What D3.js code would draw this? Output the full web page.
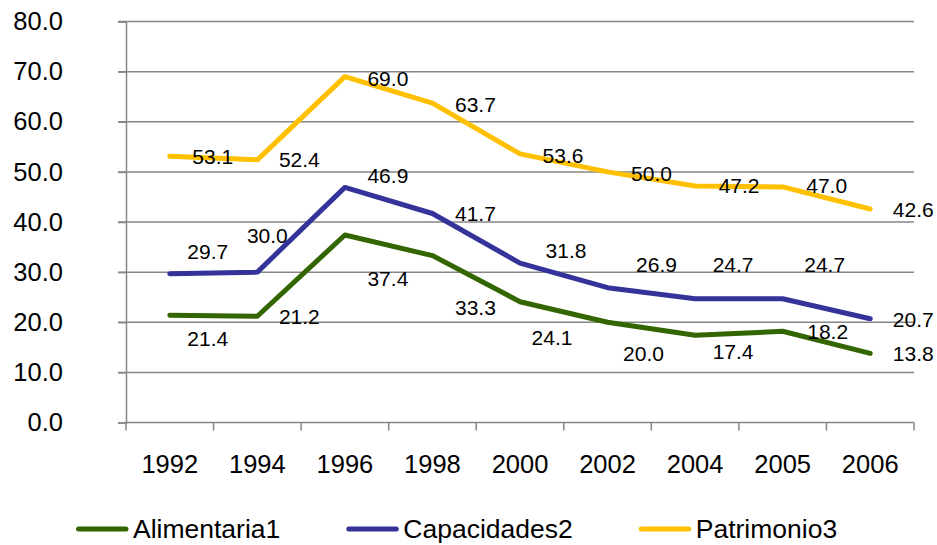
<!DOCTYPE html>
<html>
<head>
<meta charset="utf-8">
<script src="https://cdn.jsdelivr.net/npm/d3@7"></script>
<style>
  body { margin: 0; background: #fff; }
  svg { display: block; font-family: "Liberation Sans", Arial, sans-serif; }
</style>
</head>
<body>
<div id="chart"></div>
<script>
// Years on the category axis
const years = ['1992', '1994', '1996', '1998', '2000', '2002', '2004', '2005', '2006'];

// Poverty series (percent)
const alimentaria = [21.4, 21.2, 37.4, 33.3, 24.1, 20.0, 17.4, 18.2, 13.8];
const capacidades = [29.7, 30.0, 46.9, 41.7, 31.8, 26.9, 24.7, 24.7, 20.7];
const patrimonio = [53.1, 52.4, 69.0, 63.7, 53.6, 50.0, 47.2, 47.0, 42.6];

const yTicks = [0, 10, 20, 30, 40, 50, 60, 70, 80];

// Where each data label sits relative to its point (dx, dy in px)
const alimentariaNudge = [[38, 23], [42, 0], [43, 44], [43, 52], [32, 36], [36, 31], [38, 16], [45, 0], [43, 0]];
const capacidadesNudge = [[38, -22], [10, -36], [43, -12], [43, 0], [46, -12], [49, -23], [38, -34], [42, -34], [43, 1]];
const patrimonioNudge = [[43, 0], [42, 0], [43, 2], [43, 1], [43, 2], [44, 2], [44, 0], [44, -1], [43, 1]];

const series = [
    { name: 'Alimentaria1', values: alimentaria, nudge: alimentariaNudge, color: '#336600' },
    { name: 'Capacidades2', values: capacidades, nudge: capacidadesNudge, color: '#333399' },
    { name: 'Patrimonio3', values: patrimonio, nudge: patrimonioNudge, color: '#FFC000' }
];

const width = 937, height = 545;
const plot = { left: 126, right: 914, top: 21.5, bottom: 422.5 };
const gridColor = '#868686';

const svg = d3.select('#chart')
    .append('svg')
    .attr('width', width)
    .attr('height', height);

const x = d3.scaleBand()
    .domain(years)
    .range([plot.left, plot.right]);

const y = d3.scaleLinear()
    .domain([0, 80])
    .range([plot.bottom, plot.top]);

// Horizontal gridlines (with tick stubs left of the axis)
svg.append('g')
    .selectAll('line')
    .data(yTicks.filter(d => d > 0))
    .enter()
    .append('line')
    .attr('x1', plot.left - 8)
    .attr('x2', plot.right)
    .attr('y1', d => y(d))
    .attr('y2', d => y(d))
    .attr('stroke', gridColor)
    .attr('stroke-width', 1.5);

// Y axis
const yAxis = svg.append('g')
    .attr('transform', `translate(${plot.left},0)`)
    .call(d3.axisLeft(y).tickValues(yTicks).tickFormat(d3.format('.1f')).tickSize(8).tickPadding(55));
yAxis.select('.domain').attr('stroke', gridColor).attr('stroke-width', 1.5);
yAxis.selectAll('.tick line').attr('stroke', gridColor).attr('stroke-width', 1.5);
yAxis.selectAll('.tick text')
    .attr('font-size', '25.5px')
    .attr('font-family', '"Liberation Sans", Arial, sans-serif')
    .attr('fill', '#000');

// X axis: ticks on band boundaries, labels at band centres
const xAxis = svg.append('g');
xAxis.append('line')
    .attr('x1', plot.left)
    .attr('x2', plot.right)
    .attr('y1', plot.bottom)
    .attr('y2', plot.bottom)
    .attr('stroke', gridColor)
    .attr('stroke-width', 1.5);
const boundaries = years.map(d => x(d)).concat([plot.right]);
xAxis.selectAll('.xtick')
    .data(boundaries)
    .enter()
    .append('line')
    .attr('class', 'xtick')
    .attr('x1', d => d)
    .attr('x2', d => d)
    .attr('y1', plot.bottom)
    .attr('y2', plot.bottom + 8)
    .attr('stroke', gridColor)
    .attr('stroke-width', 1.5);
xAxis.selectAll('.xlabel')
    .data(years)
    .enter()
    .append('text')
    .attr('class', 'xlabel')
    .attr('x', d => x(d) + x.bandwidth() / 2)
    .attr('y', 473)
    .attr('text-anchor', 'middle')
    .attr('font-size', '25.5px')
    .text(d => d);

// Lines
const line = d3.line()
    .x((d, i) => x(years[i]) + x.bandwidth() / 2)
    .y(d => y(d));

svg.append('g')
    .selectAll('path')
    .data(series)
    .enter()
    .append('path')
    .attr('d', d => line(d.values))
    .attr('fill', 'none')
    .attr('stroke', d => d.color)
    .attr('stroke-width', 5)
    .attr('stroke-linejoin', 'round')
    .attr('stroke-linecap', 'round');

// Data labels
series.forEach(s => {
    svg.append('g')
        .selectAll('text')
        .data(s.values)
        .enter()
        .append('text')
        .attr('x', (d, i) => x(years[i]) + x.bandwidth() / 2 + s.nudge[i][0])
        .attr('y', (d, i) => y(d) + s.nudge[i][1])
        .attr('dy', '0.35em')
        .attr('text-anchor', 'middle')
        .attr('font-size', '21px')
        .attr('fill', '#000')
        .text(d => d3.format('.1f')(d));
});

// Legend
const legend = svg.append('g')
    .attr('transform', 'translate(76, 529)');
let lx = 0;
series.forEach(s => {
    legend.append('line')
        .attr('x1', lx + 2.5)
        .attr('x2', lx + 50)
        .attr('y1', 0)
        .attr('y2', 0)
        .attr('stroke', s.color)
        .attr('stroke-width', 5)
        .attr('stroke-linecap', 'round');
    const t = legend.append('text')
        .attr('x', lx + 57)
        .attr('y', 0)
        .attr('dy', '0.35em')
        .attr('font-size', '26.5px')
        .text(s.name);
    lx += 57 + t.node().getComputedTextLength() + 66;
});
</script>
</body>
</html>
